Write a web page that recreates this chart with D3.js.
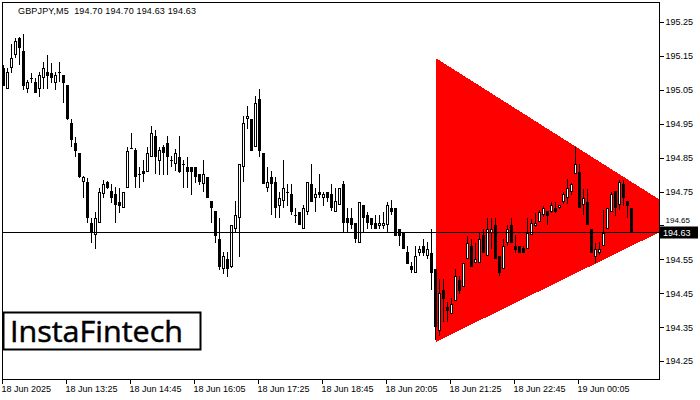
<!DOCTYPE html>
<html><head><meta charset="utf-8">
<script src="https://cdn.jsdelivr.net/npm/d3@7"></script>
<style>body{margin:0;background:#fff}svg{display:block}</style>
</head><body><svg id="c" width="700" height="400"></svg>
<script>
const chartTitle = "GBPJPY,M5  194.70 194.70 194.63 194.63";
const openP = [195.114,195.052,195.114,195.153,195.203,195.164,195.052,195.085,195.073,195.052,
195.085,195.103,195.100,195.070,195.103,195.094,195.064,194.952,194.893,194.864,
194.778,194.778,194.657,194.622,194.657,194.743,194.778,194.751,194.743,194.719,
194.701,194.760,194.878,194.872,194.802,194.810,194.808,194.852,194.914,194.840,
194.881,194.893,194.843,194.831,194.852,194.831,194.822,194.822,194.822,194.802,
194.772,194.793,194.722,194.692,194.610,194.521,194.551,194.527,194.639,194.672,
194.822,194.964,194.964,194.881,195.023,194.864,194.760,194.793,194.778,194.707,
194.722,194.749,194.743,194.681,194.690,194.639,194.690,194.772,194.731,194.749,
194.731,194.749,194.743,194.690,194.710,194.772,194.672,194.672,194.657,194.598,
194.710,194.681,194.672,194.657,194.648,194.648,194.651,194.701,194.701,194.639,
194.628,194.572,194.530,194.510,194.569,194.589,194.560,194.569,194.521,194.338,
194.459,194.409,194.389,194.427,194.489,194.468,194.551,194.589,194.539,194.539,
194.622,194.560,194.628,194.651,194.560,194.521,194.598,194.651,194.589,194.589,
194.583,194.580,194.622,194.648,194.660,194.681,194.692,194.690,194.701,194.701,
194.719,194.731,194.749,194.802,194.808,194.710,194.719,194.639,194.557,194.569,
194.589,194.639,194.690,194.751,194.710,194.772,194.722,194.700];
const highP = [195.123,195.114,195.185,195.203,195.206,195.215,195.079,195.100,195.085,195.103,
195.132,195.153,195.129,195.103,195.132,195.094,195.064,194.964,194.911,194.864,
194.796,194.790,194.672,194.690,194.760,194.784,194.781,194.772,194.763,194.760,
194.749,194.881,194.923,194.878,194.822,194.843,194.881,194.943,194.931,194.881,
194.887,194.914,194.855,194.875,194.914,194.843,194.852,194.822,194.822,194.802,
194.843,194.793,194.722,194.692,194.672,194.572,194.572,194.651,194.722,194.831,
194.973,195.002,194.964,195.032,195.052,194.864,194.822,194.810,194.793,194.749,
194.843,194.772,194.772,194.701,194.690,194.710,194.778,194.831,194.760,194.802,
194.749,194.749,194.772,194.760,194.760,194.781,194.701,194.701,194.657,194.719,
194.710,194.690,194.672,194.681,194.681,194.690,194.719,194.725,194.701,194.639,
194.628,194.589,194.542,194.589,194.589,194.610,194.601,194.639,194.521,194.492,
194.492,194.424,194.436,194.521,194.501,194.539,194.619,194.610,194.598,194.628,
194.639,194.672,194.672,194.672,194.560,194.610,194.651,194.672,194.622,194.589,
194.589,194.672,194.669,194.687,194.695,194.707,194.692,194.719,194.719,194.710,
194.749,194.787,194.775,194.881,194.831,194.757,194.757,194.639,194.598,194.601,
194.695,194.701,194.749,194.751,194.784,194.784,194.722,194.700];
const lowP = [195.061,195.052,195.100,195.144,195.123,195.049,195.041,195.070,195.041,195.029,
195.052,195.052,195.070,195.049,195.073,195.011,194.961,194.881,194.852,194.790,
194.731,194.657,194.598,194.580,194.657,194.731,194.757,194.716,194.657,194.687,
194.701,194.760,194.876,194.760,194.760,194.778,194.808,194.852,194.802,194.799,
194.799,194.799,194.822,194.810,194.805,194.760,194.760,194.740,194.775,194.769,
194.749,194.731,194.657,194.598,194.518,194.507,194.498,194.524,194.630,194.557,
194.778,194.934,194.869,194.881,194.852,194.772,194.749,194.681,194.672,194.672,
194.701,194.707,194.681,194.657,194.651,194.639,194.681,194.719,194.690,194.731,
194.707,194.719,194.692,194.690,194.710,194.630,194.630,194.639,194.598,194.598,
194.630,194.639,194.639,194.639,194.639,194.639,194.630,194.681,194.619,194.589,
194.580,194.536,194.510,194.510,194.560,194.560,194.551,194.459,194.312,194.324,
194.365,194.365,194.389,194.427,194.448,194.468,194.551,194.527,194.539,194.539,
194.569,194.560,194.580,194.551,194.501,194.521,194.589,194.598,194.569,194.569,
194.569,194.580,194.622,194.645,194.660,194.675,194.651,194.687,194.687,194.698,
194.713,194.713,194.740,194.802,194.701,194.681,194.651,194.569,194.539,194.563,
194.589,194.639,194.690,194.678,194.695,194.707,194.672,194.630];
const closeP = [195.061,195.103,195.144,195.194,195.173,195.061,195.073,195.084,195.041,195.094,
195.114,195.091,195.085,195.094,195.102,195.070,194.964,194.902,194.869,194.793,
194.793,194.672,194.630,194.672,194.749,194.772,194.760,194.731,194.710,194.707,
194.749,194.869,194.879,194.793,194.801,194.802,194.864,194.923,194.852,194.872,
194.864,194.852,194.842,194.864,194.808,194.830,194.808,194.808,194.793,194.778,
194.802,194.731,194.701,194.619,194.527,194.560,194.521,194.651,194.681,194.831,
194.952,194.973,194.869,195.011,194.869,194.772,194.778,194.772,194.701,194.731,
194.760,194.748,194.690,194.680,194.651,194.701,194.778,194.719,194.743,194.740,
194.743,194.731,194.701,194.722,194.760,194.657,194.657,194.651,194.610,194.719,
194.672,194.657,194.651,194.639,194.657,194.657,194.710,194.690,194.619,194.619,
194.580,194.536,194.518,194.560,194.580,194.569,194.580,194.510,194.350,194.451,
194.433,194.397,194.418,194.501,194.456,194.539,194.598,194.527,194.551,194.610,
194.569,194.639,194.639,194.551,194.510,194.589,194.639,194.598,194.577,194.569,
194.569,194.628,194.657,194.657,194.690,194.701,194.678,194.710,194.690,194.710,
194.743,194.760,194.772,194.831,194.701,194.731,194.651,194.569,194.580,194.580,
194.628,194.701,194.743,194.701,194.778,194.731,194.707,194.630];
const priceTicks = [194.25,194.35,194.45,194.55,194.65,194.75,194.85,194.95,195.05,195.15,195.25];
const timeTickIndex = [0,16,32,48,64,80,96,112,128,144];
const timeTickLabels = ["18 Jun 2025","18 Jun 13:25","18 Jun 14:45","18 Jun 16:05","18 Jun 17:25",
"18 Jun 18:45","18 Jun 20:05","18 Jun 21:25","18 Jun 22:45","19 Jun 00:05"];
const currentPrice = 194.63;
const triangleIndex = [108,108,171.25];
const trianglePrice = [195.144,194.306,194.672];
const logoText = "InstaFintech";

const svg = d3.select("#c");
const L = 2.5, R = 659.5, T = 2.5, B = 379.5;
const x = d3.scaleLinear().domain([0, 157]).range([3.5, 631.5]);
const y = d3.scaleLinear().domain([194.197, 195.306]).range([379, 3]);
const FONT = "'Liberation Sans', Arial, sans-serif";

svg.append("defs").append("clipPath").attr("id","plot")
  .append("rect").attr("x",L).attr("y",T).attr("width",R-L).attr("height",B-T);

// triangle
const triPts = triangleIndex.map((t,i)=>[x(t), y(trianglePrice[i])]);
svg.append("path").attr("clip-path","url(#plot)")
  .attr("d", d3.line()(triPts) + "Z").attr("fill","#ff0000").attr("shape-rendering","crispEdges");

// candles
const g = svg.append("g").attr("clip-path","url(#plot)");
openP.forEach((o,i)=>{
  const h = highP[i], l = lowP[i], c = closeP[i];
  const cx = Math.floor(x(i)) + 0.5;
  const yH = Math.round(y(h)), yL = Math.round(y(l));
  const yO = Math.round(y(o)), yC = Math.round(y(c));
  g.append("line").attr("x1",cx).attr("x2",cx).attr("y1",yH).attr("y2",Math.max(yL,yH+1))
    .attr("stroke","#000").attr("stroke-width",1).attr("shape-rendering","crispEdges");
  const top = Math.min(yO,yC), bot = Math.max(yO,yC);
  if (bot - top < 2) {
    g.append("rect").attr("x",cx-1.5).attr("y",top).attr("width",3).attr("height",Math.max(1,bot-top))
      .attr("fill","#000").attr("shape-rendering","crispEdges");
  } else if (c > o) {
    g.append("rect").attr("x",cx-1).attr("y",top+0.5).attr("width",2).attr("height",bot-top-1)
      .attr("fill","#fff").attr("stroke","#000").attr("stroke-width",1).attr("shape-rendering","crispEdges");
  } else {
    g.append("rect").attr("x",cx-1.5).attr("y",top).attr("width",3).attr("height",bot-top)
      .attr("fill","#000").attr("shape-rendering","crispEdges");
  }
});

// current price line
const yCur = Math.round(y(currentPrice)) + 0.5;
svg.append("line").attr("x1",L).attr("x2",R).attr("y1",yCur).attr("y2",yCur)
  .attr("stroke","#000").attr("stroke-width",1).attr("shape-rendering","crispEdges");

// frame
svg.append("rect").attr("x",L).attr("y",T).attr("width",R-L).attr("height",B-T)
  .attr("fill","none").attr("stroke","#000").attr("stroke-width",1).attr("shape-rendering","crispEdges");

// right axis (the tick label hidden behind the current-price tag is clipped like in the terminal)
const ya = svg.append("g").attr("transform",`translate(${R},0)`)
  .call(d3.axisRight(y).tickValues(priceTicks).tickFormat(d3.format(".2f")).tickSize(4).tickPadding(2));
ya.select(".domain").remove();
ya.selectAll("line").attr("stroke","#000").attr("shape-rendering","crispEdges");
ya.selectAll("text").attr("font-family",FONT).attr("font-size","9px").attr("fill","#000");
ya.selectAll(".tick").filter(d=>Math.abs(y(d)-yCur) < 10).select("text")
  .attr("dy","0").attr("y",-2.5).attr("font-size","8px");

// bottom axis
const xa = svg.append("g").attr("transform",`translate(0,${B})`)
  .call(d3.axisBottom(x).tickValues(timeTickIndex).tickFormat((d,i)=>timeTickLabels[i]).tickSize(4).tickPadding(2));
xa.select(".domain").remove();
xa.selectAll(".tick").attr("transform", d=>`translate(${Math.floor(x(d))-0.5},0)`);
xa.selectAll("line").attr("stroke","#000").attr("shape-rendering","crispEdges");
xa.selectAll("text").attr("text-anchor","start").attr("x",-1)
  .attr("font-family",FONT).attr("font-size","9px").attr("fill","#000");

// price label
svg.append("rect").attr("x",660).attr("y",yCur-6).attr("width",38).attr("height",12).attr("fill","#000");
svg.append("text").attr("x",663).attr("y",yCur+3.5).text(d3.format(".2f")(currentPrice))
  .attr("font-family",FONT).attr("font-size","9px").attr("fill","#fff");

// title
svg.append("text").attr("x",18).attr("y",14).text(chartTitle)
  .attr("font-family",FONT).attr("font-size","9px").attr("fill","#000")
  .attr("textLength",178).attr("lengthAdjust","spacing").style("white-space","pre");

// logo
svg.append("rect").attr("x",3.5).attr("y",312.5).attr("width",197).attr("height",37)
  .attr("fill","#fff").attr("stroke","#000").attr("stroke-width",2);
svg.append("text").attr("x",10).attr("y",342).text(logoText)
  .attr("font-family","'Open Sans', Arial, sans-serif").attr("font-size","30px").attr("fill","#000")
  .attr("stroke","#000").attr("stroke-width",0.5)
  .attr("textLength",173).attr("lengthAdjust","spacingAndGlyphs");
</script></body></html>
